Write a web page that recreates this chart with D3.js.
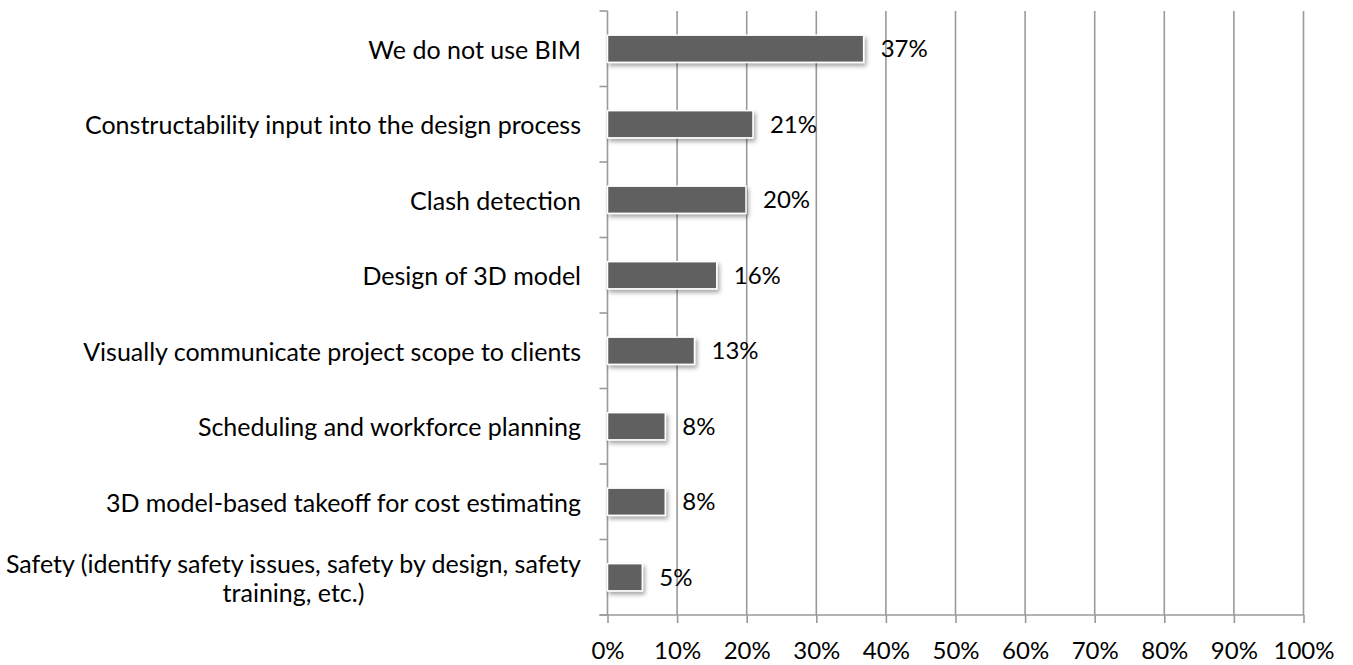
<!DOCTYPE html>
<html>
<head>
<meta charset="utf-8">
<script src="https://cdn.jsdelivr.net/npm/d3@7"></script>
<style>
  body { margin: 0; background: #fff; }
  text { font-family: Lato, "Open Sans", sans-serif; fill: #000; }
</style>
</head>
<body>
<div id="chart"></div>
<script>
// datos
const categorias = [
  "We do not use BIM",
  "Constructability input into the design process",
  "Clash detection",
  "Design of 3D model",
  "Visually communicate project scope to clients",
  "Scheduling and workforce planning",
  "3D model-based takeoff for cost estimating",
  "Safety (identify safety issues, safety by design, safety\ntraining, etc.)"
];
const valores = [36.8, 20.9, 19.9, 15.7, 12.5, 8.3, 8.3, 5.0];
const etiquetas = ["37%", "21%", "20%", "16%", "13%", "8%", "8%", "5%"];
const ticksX = [0, 10, 20, 30, 40, 50, 60, 70, 80, 90, 100];

const W = 1353, H = 665;
const margen = {top: 11, right: 50, bottom: 50, left: 607.5};

const svg = d3.select("#chart").append("svg")
  .attr("width", W)
  .attr("height", H);

// sombra de las barras
const defs = svg.append("defs");
const f = defs.append("filter").attr("id", "sombra")
  .attr("x", "-10%").attr("y", "-30%").attr("width", "130%").attr("height", "180%");
f.append("feDropShadow")
  .attr("dx", 2).attr("dy", 3).attr("stdDeviation", 2)
  .attr("flood-color", "#000").attr("flood-opacity", 0.35);

const x = d3.scaleLinear()
  .domain([0, 100])
  .range([margen.left, 1303.5]);

const y = d3.scaleBand()
  .domain(categorias)
  .range([margen.top, 615])
  .paddingInner(0.64)
  .paddingOuter(0.32);

const gris = "#9a9a9a";

// lineas verticales
svg.append("g")
  .selectAll("line")
  .data(ticksX.slice(1))
  .enter()
  .append("line")
    .attr("x1", d => x(d)).attr("x2", d => x(d))
    .attr("y1", margen.top).attr("y2", 615)
    .style("stroke", gris).style("stroke-width", 1.6);

// eje x
const ejeX = svg.append("g")
  .attr("transform", "translate(0,615)")
  .call(d3.axisBottom(x).tickValues(ticksX).tickFormat(d => d + "%").tickSize(8).tickPadding(19).tickSizeOuter(0));
ejeX.select(".domain").remove();
ejeX.append("line")
  .attr("x1", x(0) - 8).attr("x2", x(100))
  .style("stroke", gris).style("stroke-width", 1.6);
ejeX.selectAll(".tick line").style("stroke", gris).style("stroke-width", 1.6);
ejeX.selectAll(".tick text")
  .style("font-size", "24px")
  .style("font-family", "Lato, 'Open Sans', sans-serif")
  .style("fill", "#000");

// eje y
const step = y.step();
const bordes = d3.range(categorias.length + 1).map(i => margen.top + i * step);
svg.append("line")
  .attr("x1", x(0)).attr("x2", x(0))
  .attr("y1", margen.top).attr("y2", 615)
  .style("stroke", gris).style("stroke-width", 1.6);
svg.append("g")
  .selectAll("line")
  .data(bordes)
  .enter()
  .append("line")
    .attr("x1", x(0) - 8).attr("x2", x(0))
    .attr("y1", d => d).attr("y2", d => d)
    .style("stroke", gris).style("stroke-width", 1.6);

// etiquetas de categorias
const altoLinea = 29;
const etiq = svg.append("g")
  .selectAll("text")
  .data(categorias)
  .enter()
  .append("text")
    .style("font-size", "25px")
    .attr("text-anchor", "middle");

etiq.each(function(d) {
  const lineas = d.split("\n");
  const t = d3.select(this);
  const cy = y(d) + y.bandwidth() / 2 + 1;
  const y0 = cy - (lineas.length - 1) * altoLinea / 2;
  lineas.forEach((l, i) => {
    t.append("tspan").text(l)
      .attr("y", y0 + i * altoLinea)
      .attr("dy", "0.35em");
  });
  // alinear el bloque a la derecha
  const ancho = d3.max(t.selectAll("tspan").nodes(), n => n.getComputedTextLength());
  t.selectAll("tspan").attr("x", 581 - ancho / 2);
});

// barras
svg.append("g")
  .selectAll("rect")
  .data(valores)
  .enter()
  .append("rect")
    .attr("x", x(0))
    .attr("y", (d, i) => y(categorias[i]))
    .attr("width", d => x(d) - x(0))
    .attr("height", y.bandwidth())
    .style("fill", "#606060")
    .style("stroke", "#fff")
    .style("stroke-width", 1.5)
    .attr("filter", "url(#sombra)");

// valores
svg.append("g")
  .selectAll("text")
  .data(valores)
  .enter()
  .append("text")
    .attr("x", d => x(d) + 17)
    .attr("y", (d, i) => y(categorias[i]) + y.bandwidth() / 2)
    .attr("dy", "0.35em")
    .style("font-size", "24px")
    .text((d, i) => etiquetas[i]);
</script>
</body>
</html>
